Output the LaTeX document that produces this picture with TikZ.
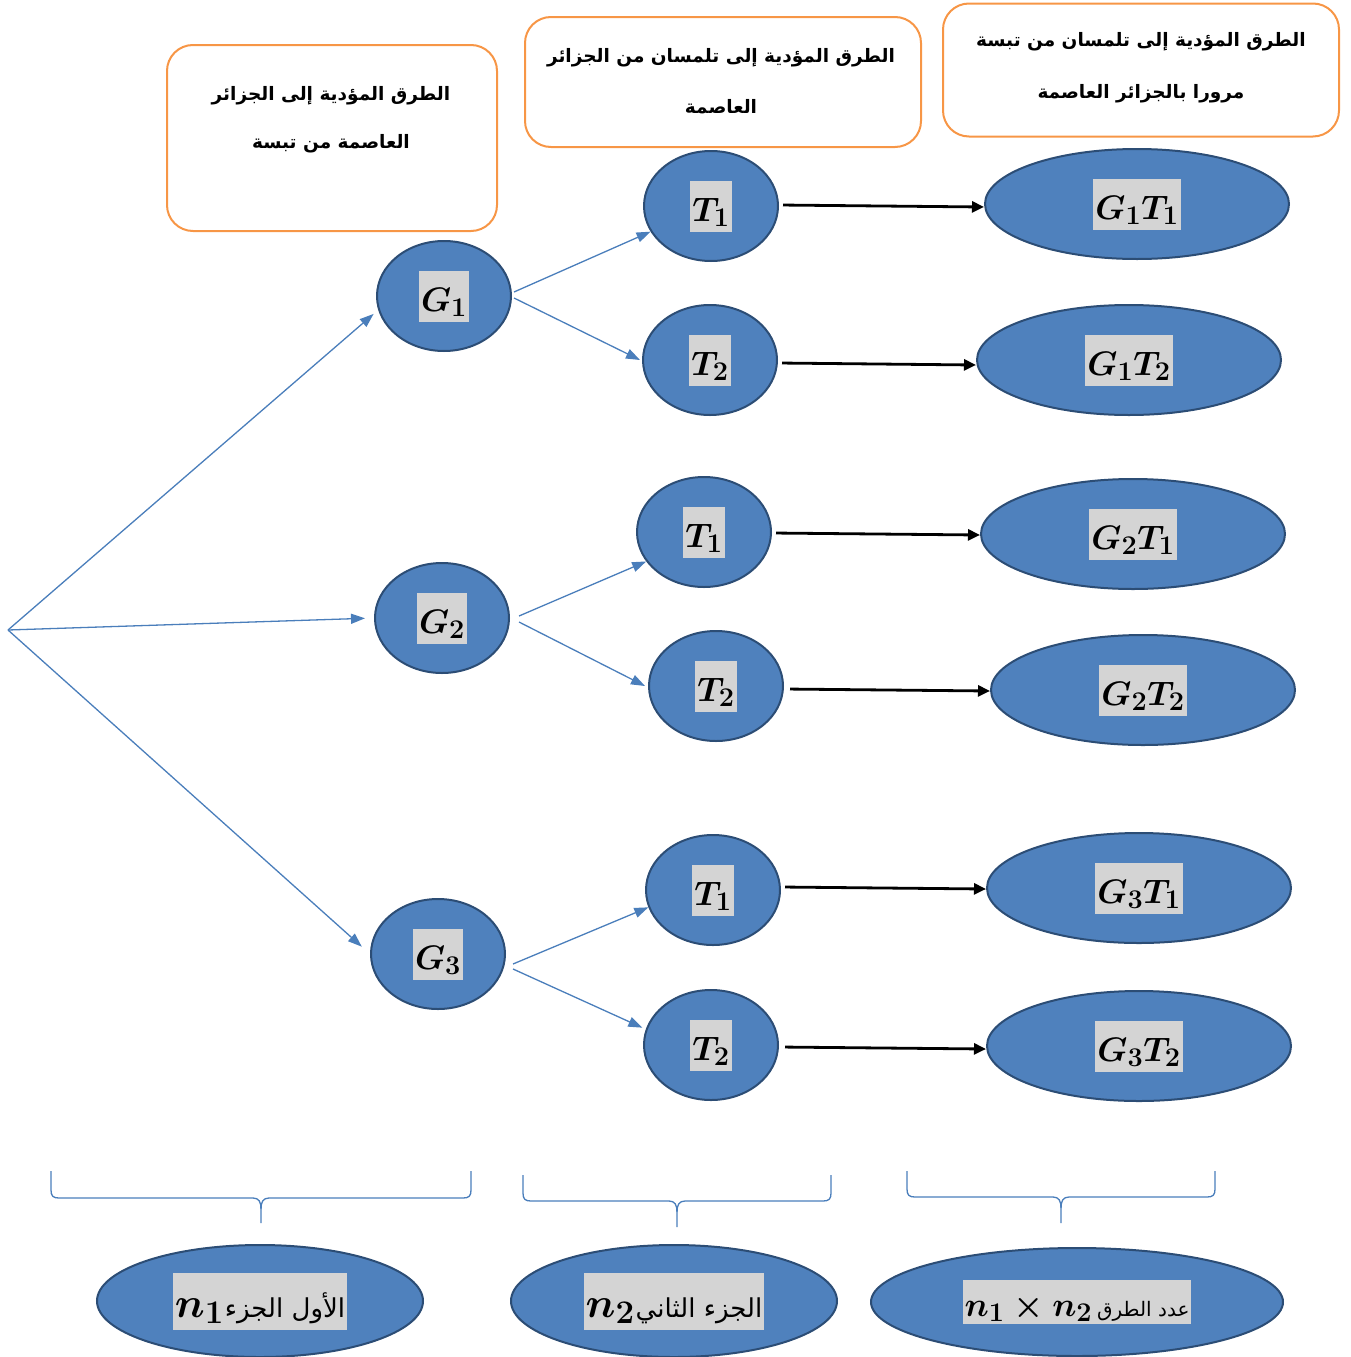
\RequirePackage{fix-cm}
\documentclass[tikz,border=0pt]{standalone}
\usepackage{fontspec}
\usepackage{amsmath}
\usetikzlibrary{shapes.geometric,arrows.meta}
\TeXXeTstate=1
\newfontfamily\arabicfont[Script=Arabic]{DejaVu Sans}
\DeclareMathSizes{34}{34}{27}{20}
\DeclareMathSizes{42}{42}{33}{24}
\definecolor{nodeblue}{HTML}{4F81BD}
\definecolor{nodeedge}{HTML}{2C4D75}
\definecolor{arrblue}{HTML}{4A7EBB}
\definecolor{boxorange}{HTML}{F79646}
\definecolor{lblgray}{HTML}{D4D4D4}
\newcommand{\mylbl}[1]{{\setlength{\fboxsep}{2pt}\colorbox{lblgray}{\rule[-8pt]{0pt}{47pt}\boldmath$#1$}}}
\tikzset{
  smallnode/.style={ellipse, draw=nodeedge, line width=2pt, fill=nodeblue,
    minimum width=134pt, minimum height=110pt, inner sep=0pt,
    font=\fontsize{34}{38}\selectfont},
  bignode/.style={smallnode, minimum width=304pt},
  botnode/.style={smallnode, minimum width=326pt, minimum height=112pt},
  hintbox/.style={draw=boxorange, line width=2pt, rounded corners=26pt, inner sep=0pt},
  hinttext/.style={font=\arabicfont\bfseries\fontsize{18.5}{48}\selectfont, align=center, inner sep=0pt},
  bluearrow/.style={draw=arrblue, line width=1.3pt, -{Triangle[length=14pt,width=10pt]}},
  blackarrow/.style={draw=black, line width=2.8pt, -{Triangle[length=12pt,width=11pt]}, shorten <=4pt},
  bracestyle/.style={draw=arrblue, line width=1.3pt}
}
\begin{document}
\begin{tikzpicture}[x=1pt,y=-1pt]
\useasboundingbox (0,0) rectangle (1350,1357);

% hint boxes
\node[hintbox, minimum width=330pt, minimum height=186pt] (b1) at (332,138) {};
\node[hinttext] (t1) at (331,120) {\beginR الطرق المؤدية إلى الجزائر\endR\\ \beginR العاصمة من تبسة\endR};
\node[hintbox, minimum width=396pt, minimum height=130pt] (b2) at (723,82) {};
\node[hinttext, font=\arabicfont\bfseries\fontsize{18.5}{51}\selectfont] (t2) at (721,81) {\beginR الطرق المؤدية إلى تلمسان من الجزائر\endR\\ \beginR العاصمة\endR};
\node[hintbox, minimum width=396pt, minimum height=133pt] (b3) at (1141,70) {};
\node[hinttext, font=\arabicfont\bfseries\fontsize{18.5}{52}\selectfont] (t3) at (1141,68) {\beginR الطرق المؤدية إلى تلمسان من تبسة\endR\\ \beginR مرورا بالجزائر العاصمة\endR};

% origin
\coordinate (O) at (8,630);

% G nodes
\node[smallnode] (G1) at (444,296) {\mylbl{G_1}};
\node[smallnode] (G2) at (442,618) {\mylbl{G_2}};
\node[smallnode] (G3) at (438,954) {\mylbl{G_3}};

% T nodes
\node[smallnode] (T1a) at (711,206) {\mylbl{T_1}};
\node[smallnode] (T2a) at (710,360) {\mylbl{T_2}};
\node[smallnode] (T1b) at (704,532) {\mylbl{T_1}};
\node[smallnode] (T2b) at (716,686) {\mylbl{T_2}};
\node[smallnode] (T1c) at (713,890) {\mylbl{T_1}};
\node[smallnode] (T2c) at (711,1045) {\mylbl{T_2}};

% GT nodes
\node[bignode] (GT11) at (1137,204) {\mylbl{G_1T_1}};
\node[bignode] (GT12) at (1129,360) {\mylbl{G_1T_2}};
\node[bignode] (GT21) at (1133,534) {\mylbl{G_2T_1}};
\node[bignode] (GT22) at (1143,690) {\mylbl{G_2T_2}};
\node[bignode] (GT31) at (1139,888) {\mylbl{G_3T_1}};
\node[bignode] (GT32) at (1139,1046) {\mylbl{G_3T_2}};

% bottom nodes
\node[botnode] (N1) at (260,1301) {\setlength{\fboxsep}{2pt}\colorbox{lblgray}{\rule[-10pt]{0pt}{53pt}\fontsize{42}{46}\selectfont\boldmath$n_1$\hspace{1pt}{\arabicfont\fontsize{26}{30}\selectfont\beginR الأول الجزء\endR}}};
\node[botnode] (N2) at (674,1301) {\setlength{\fboxsep}{2pt}\colorbox{lblgray}{\rule[-10pt]{0pt}{53pt}\fontsize{42}{46}\selectfont\boldmath$n_2$\hspace{1pt}{\arabicfont\fontsize{26}{30}\selectfont\beginR الجزء الثاني\endR}}};
\node[botnode, minimum width=412pt, minimum height=108pt] (N3) at (1077,1302) {\setlength{\fboxsep}{2pt}\colorbox{lblgray}{\rule[-6pt]{0pt}{40pt}\fontsize{34}{38}\selectfont\boldmath$n_1\times n_2$\hspace{5pt}{\arabicfont\fontsize{20}{24}\selectfont\beginR عدد الطرق\endR}}};

% blue arrows
\draw[bluearrow, shorten >=6pt] (O) -- (G1.192);
\draw[bluearrow, shorten >=9pt] (O) -- (G2.west);
\draw[bluearrow, shorten >=11pt] (O) -- (G3.west);
\draw[bluearrow] ([xshift=2pt,yshift=4pt]G1.east) -- (T1a.203);
\draw[bluearrow] ([xshift=2pt,yshift=-2pt]G1.east) -- ([xshift=-2pt]T2a.west);
\draw[bluearrow] ([xshift=9pt,yshift=2pt]G2.east) -- (T1b.207);
\draw[bluearrow] ([xshift=9pt,yshift=-4pt]G2.east) -- ([xshift=-3pt]T2b.west);
\draw[bluearrow] ([xshift=7pt,yshift=-10pt]G3.east) -- (T1c.195);
\draw[bluearrow] ([xshift=7pt,yshift=-15pt]G3.east) -- ([xshift=-4pt]T2c.165);

% black arrows
\draw[blackarrow] ([yshift=1pt]T1a.east) -- ([yshift=-3pt]GT11.west);
\draw[blackarrow] ([yshift=-3pt]T2a.east) -- ([yshift=-5pt]GT12.west);
\draw[blackarrow] ([yshift=-1pt]T1b.east) -- ([yshift=-1pt]GT21.west);
\draw[blackarrow, shorten <=6pt] ([yshift=-3pt]T2b.east) -- ([yshift=-1pt]GT22.west);
\draw[blackarrow] ([yshift=3pt]T1c.east) -- ([yshift=-1pt]GT31.west);
\draw[blackarrow, shorten <=6pt] ([yshift=-2pt]T2c.east) -- ([yshift=-3pt]GT32.west);

% braces
\draw[bracestyle] (51,1171) -- (51,1190) .. controls (51,1196) and (53,1198) .. (59,1198) -- (253,1198) .. controls (259,1198) and (261,1202) .. (261,1209) -- (261,1223);
\draw[bracestyle] (471,1171) -- (471,1190) .. controls (471,1196) and (469,1198) .. (463,1198) -- (269,1198) .. controls (263,1198) and (261,1202) .. (261,1209);
\draw[bracestyle] (523,1175) -- (523,1193) .. controls (523,1199) and (525,1201) .. (531,1201) -- (669,1201) .. controls (675,1201) and (677,1205) .. (677,1212) -- (677,1227);
\draw[bracestyle] (831,1175) -- (831,1193) .. controls (831,1199) and (829,1201) .. (823,1201) -- (685,1201) .. controls (679,1201) and (677,1205) .. (677,1212);
\draw[bracestyle] (907,1171) -- (907,1189) .. controls (907,1195) and (909,1197) .. (915,1197) -- (1053,1197) .. controls (1059,1197) and (1061,1201) .. (1061,1208) -- (1061,1223);
\draw[bracestyle] (1215,1171) -- (1215,1189) .. controls (1215,1195) and (1213,1197) .. (1207,1197) -- (1069,1197) .. controls (1063,1197) and (1061,1201) .. (1061,1208);
\end{tikzpicture}
\end{document}
